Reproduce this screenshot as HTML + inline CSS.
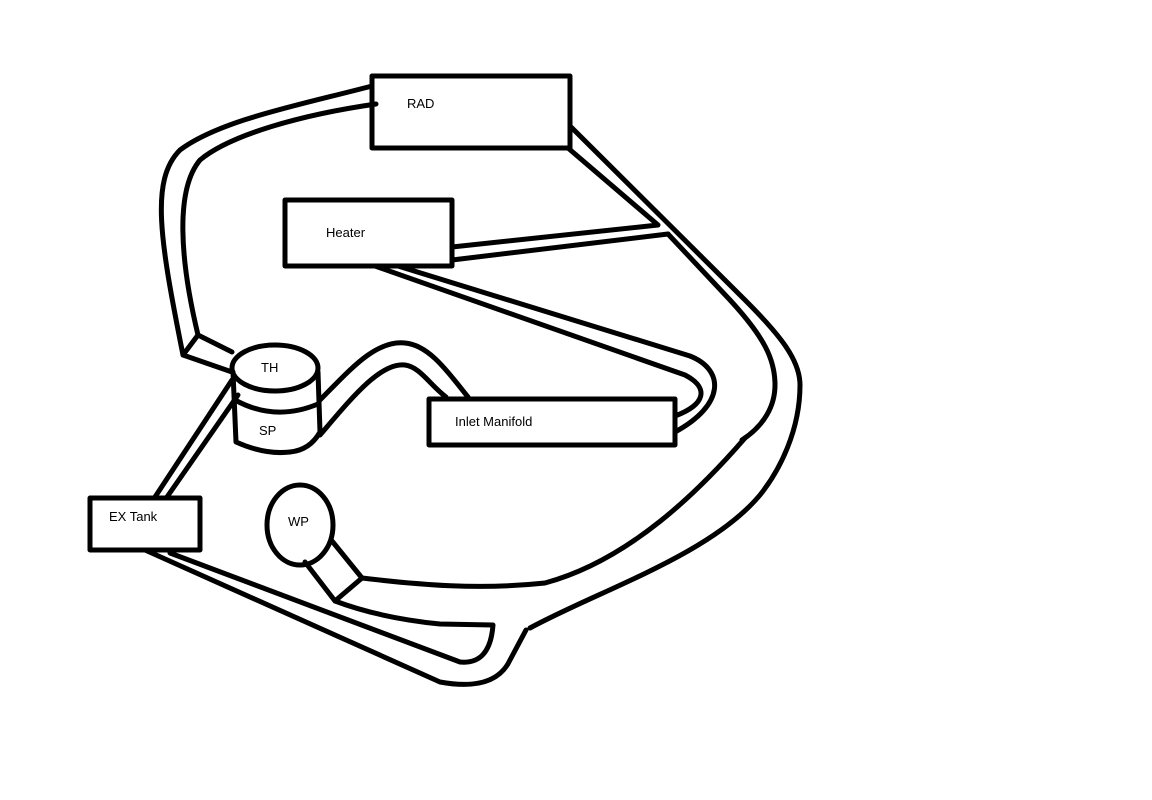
<!DOCTYPE html>
<html><head><style>
html,body{margin:0;padding:0;background:#fff;}
svg{display:block;}
text{font-family:"Liberation Sans",sans-serif;font-size:13px;fill:#000;}
</style></head><body>
<svg width="1152" height="800" viewBox="0 0 1152 800" xmlns="http://www.w3.org/2000/svg">
<g fill="none" stroke="#000" stroke-width="5" stroke-linejoin="round" stroke-linecap="round">
<rect x="372" y="76" width="198" height="72"/>
<rect x="285" y="200" width="167" height="66"/>
<rect x="429" y="399" width="246" height="46"/>
<rect x="90" y="498" width="110" height="52"/>
<ellipse cx="300" cy="525" rx="33" ry="40"/>
<path d="M305,562 L335,601 L362,578 L332,541"/>
<ellipse cx="275" cy="368" rx="43" ry="23"/>
<path d="M233,372 L236,442 Q265,455 290,452 Q310,450 320,432 L318,372"/>
<path d="M235,400 Q275,422 318,404"/>
<path d="M372,86 C300,105 220,120 180,150 C150,180 160,240 183,355 L198,335"/>
<path d="M376,104 C300,115 230,135 200,160 C175,190 180,260 198,335 L232,352"/>
<path d="M183,355 L232,372"/>
<path d="M232,380 L155,497"/>
<path d="M238,395 L167,497"/>
<path d="M320,400 C350,370 375,340 405,343 C430,345 450,375 468,397"/>
<path d="M320,435 C350,400 380,362 405,365 C420,367 430,385 446,397"/>
<path d="M452,247 L658,225 L568,148"/>
<path d="M452,260 L668,234"/>
<path d="M398,266 L690,356 C725,370 725,405 675,432"/>
<path d="M375,266 L685,375 C710,388 705,405 675,416"/>
<path d="M570,126 L745,300 C780,335 800,360 800,385 C800,430 780,470 760,495 C710,555 600,590 530,628"/>
<path d="M668,234 L730,300 C765,338 775,360 775,385 C775,405 765,425 742,440"/>
<path d="M745,438 C700,490 630,560 545,583 C480,590 420,585 362,578"/>
<path d="M145,550 L440,682 Q495,692 510,660 L526,630"/>
<path d="M170,553 L460,662 Q490,665 493,625 L440,624 Q380,618 335,601"/>
</g>
<text x="407" y="108">RAD</text>
<text x="326" y="237">Heater</text>
<text x="455" y="426">Inlet Manifold</text>
<text x="109" y="521">EX Tank</text>
<text x="261" y="372">TH</text>
<text x="259" y="435">SP</text>
<text x="288" y="526">WP</text>
</svg>
</body></html>
